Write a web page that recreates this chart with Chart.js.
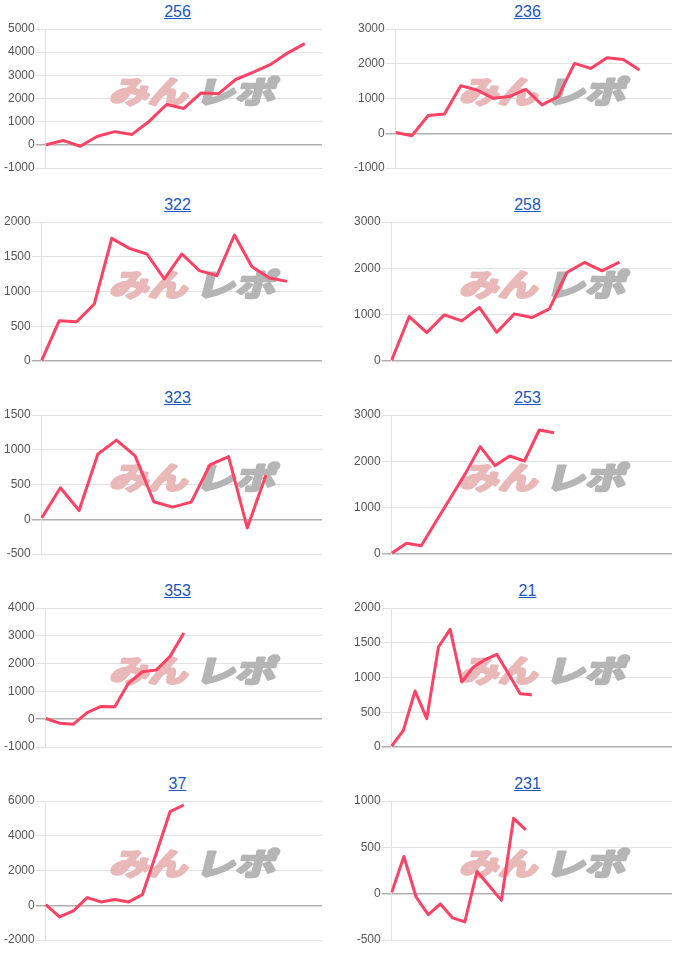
<!DOCTYPE html>
<html>
<head>
<meta charset="utf-8">
<script src="https://cdn.jsdelivr.net/npm/chart.js@4"></script>
<style>
  body { margin: 0; background: #fff; font-family: "Liberation Sans", Arial, sans-serif; }
  #grid { display: grid; grid-template-columns: 350px 350px; grid-auto-rows: 193px; width: 700px; }
  .cell { position: relative; }
  .cell .ttl { position: absolute; left: 0; top: 2px; width: 355px; text-align: center; font-size: 16px; line-height: 20px; }
  .cell .ttl a { color: #1a55c4; text-decoration: underline; }
  .cell canvas { position: absolute; left: 0; top: 20px; }
</style>
</head>
<body>
<div id="grid"></div>
<script>
// machine numbers shown as chart titles
const titles = ['256', '236', '322', '258', '323', '253', '353', '21', '37', '231'];
// number of x slots on each chart
const slots = [17, 18, 17, 17, 16, 20, 21, 25, 21, 24];
const yMin = [-1000, -1000, 0, 0, -500, 0, -1000, 0, -2000, -500];
const yMax = [5000, 3000, 2000, 3000, 1500, 3000, 4000, 2000, 6000, 1000];
const yStep = [1000, 1000, 500, 1000, 500, 1000, 1000, 500, 2000, 500];

const v256 = [0, 190, -60, 370, 570, 450, 1020, 1740, 1570, 2240, 2200, 2820, 3130, 3460, 3960, 4370];
const v236 = [20, -70, 510, 555, 1370, 1245, 1005, 1055, 1265, 815, 1055, 2010, 1865, 2170, 2125, 1820];
const v322 = [10, 580, 566, 820, 1765, 1620, 1540, 1180, 1540, 1300, 1228, 1813, 1357, 1194, 1146];
const v258 = [20, 960, 613, 995, 865, 1155, 620, 1017, 937, 1125, 1910, 2127, 1947, 2134];
const v323 = [19, 453, 125, 935, 1138, 911, 251, 174, 246, 781, 902, -125, 637];
const v253 = [14, 230, 180, 700, 1220, 1740, 2316, 1906, 2115, 2007, 2676, 2619];
const v353 = [24, -144, -180, 240, 457, 445, 1298, 1707, 1767, 2260, 3101];
const v21 = [14, 240, 806, 408, 1439, 1693, 935, 1151, 1257, 1333, 1055, 767, 753];
const v37 = [38, -673, -327, 442, 192, 327, 192, 615, 2980, 5385, 5769];
const v231 = [14, 401, -36, -226, -111, -262, -305, 240, 86, -72, 813, 688];

const series = [v256, v236, v322, v258, v323, v253, v353, v21, v37, v231];

// "みんレポ" watermark behind the line
function logoPart(ctx, text, x, y, width, color) {
  const w = ctx.measureText(text).width;
  ctx.save();
  ctx.translate(x, y);
  ctx.scale(width / w, 0.95);
  ctx.fillStyle = color;
  ctx.strokeStyle = color;
  ctx.lineWidth = 3;
  ctx.lineJoin = 'round';
  ctx.strokeText(text, 0, 0);
  ctx.fillText(text, 0, 0);
  ctx.restore();
}

const watermark = {
  id: 'watermark',
  beforeDatasetsDraw(chart) {
    const ctx = chart.ctx;
    const cy = 71;
    ctx.save();
    ctx.setTransform(1, 0, -0.25, 1, 0, 0);
    ctx.font = 'bold 32px "Noto Sans CJK JP"';
    ctx.textBaseline = 'middle';
    logoPart(ctx, 'みん', 112 + 0.25 * cy, cy, 78, '#e9b8b8');
    logoPart(ctx, 'レポ', 198 + 0.25 * cy, cy, 80, '#b5b5b5');
    ctx.restore();
  }
};

const grid = document.getElementById('grid');
titles.forEach((t, i) => {
  const cell = document.createElement('div');
  cell.className = 'cell';
  cell.innerHTML = '<div class="ttl"><a href="#">' + t + '</a></div>';
  const canvas = document.createElement('canvas');
  canvas.width = 350;
  canvas.height = 173;
  cell.appendChild(canvas);
  grid.appendChild(cell);

  new Chart(canvas, {
    type: 'line',
    data: {
      labels: new Array(slots[i]).fill(''),
      datasets: [{
        data: series[i],
        borderColor: '#ff4263',
        borderWidth: 3,
        borderJoinStyle: 'round',
        pointRadius: 0,
        tension: 0,
        fill: false
      }]
    },
    options: {
      responsive: false,
      animation: false,
      layout: { padding: { left: 3, right: 28, top: 9, bottom: 25 } },
      plugins: { legend: { display: false }, tooltip: { enabled: false } },
      scales: {
        x: { display: false },
        y: {
          min: yMin[i],
          max: yMax[i],
          ticks: {
            stepSize: yStep[i],
            padding: 1,
            color: '#555',
            font: { family: '"Liberation Sans", Arial', size: 12 },
            callback: v => String(v)
          },
          grid: {
            tickLength: 10,
            color: ctx => (ctx.tick && ctx.tick.value === 0) ? '#b0b0b0' : '#e2e2e2',
            lineWidth: ctx => (ctx.tick && ctx.tick.value === 0) ? 1.5 : 1
          },
          border: { color: '#e2e2e2' }
        }
      }
    },
    plugins: [watermark]
  });
});
</script>
</body>
</html>
